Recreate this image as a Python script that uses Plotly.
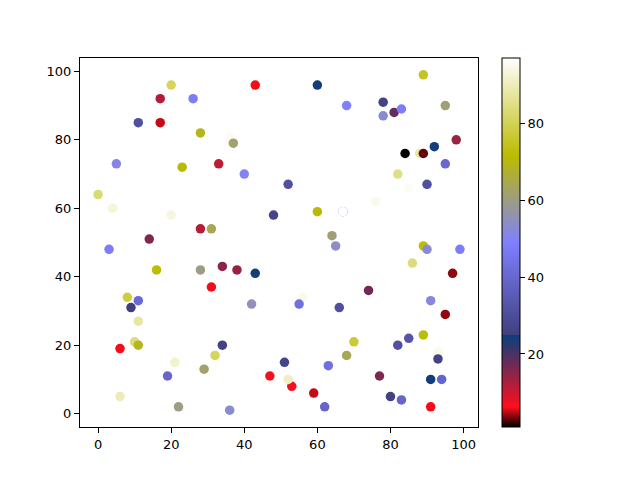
import plotly.graph_objects as go

# scatter data: x, y and colour value per point
x = [20, 17, 26, 43, 11, 17, 28, 36, 37, 5, 23, 33, 40, 0, 4, 20, 48, 28, 31, 14,
     60, 89, 68, 78, 81, 83, 78, 95, 98, 92, 84, 88, 89, 95, 97, 82, 85, 90, 52, 76,
     60, 67, 67, 64, 65, 89, 99, 90, 86, 97, 74, 56, 55, 66, 91, 95, 70, 68, 82, 85,
     89, 93, 93, 91, 94, 91, 80, 83, 77, 63, 62, 59, 53, 52, 51, 47,
     3, 16, 28, 34, 38, 43, 31, 42, 8, 11, 9, 11, 10, 11, 6, 34, 32, 21, 29, 19, 6, 22, 36]
y = [96, 92, 92, 96, 85, 85, 82, 81, 79, 73, 72, 73, 70, 64, 60, 58, 58, 54, 54, 51,
     96, 99, 90, 91, 88, 89, 87, 90, 80, 78, 76, 76, 76, 73, 70, 70, 66, 67, 67, 62,
     59, 59, 59, 52, 49, 49, 48, 48, 44, 41, 36, 34, 32, 31, 33, 29, 21, 17, 20, 22,
     23, 18, 16, 10, 10, 2, 5, 4, 11, 14, 2, 6, 8, 10, 15, 11,
     48, 42, 42, 43, 42, 41, 37, 32, 34, 33, 31, 27, 21, 20, 19, 20, 17, 15, 13, 11, 5, 2, 1]
c = [81, 12, 48, 6, 31, 5, 69, 96, 62, 51, 71, 11, 50, 83, 93, 94, 27, 12, 64, 16,
     24, 75, 49, 26, 18, 48, 53, 61, 14, 24, 1, 88, 3, 40, 97, 85, 96, 31, 31, 95,
     71, 48, 97, 61, 54, 72, 48, 53, 84, 4, 17, 95, 43, 31, 52, 4, 77, 64, 31, 33,
     72, 95, 26, 24, 39, 6, 26, 39, 16, 43, 39, 5, 7, 91, 27, 7,
     48, 72, 60, 15, 14, 24, 6, 55, 78, 41, 25, 88, 84, 69, 6, 26, 81, 92, 62, 39, 90, 60, 53]

# matplotlib gist_stern segment data
stern = {
    "r": [(0.0, 0.0, 0.0), (0.0547, 1.0, 1.0), (0.25, 0.027, 0.25), (1.0, 1.0, 1.0)],
    "g": [(0.0, 0.0, 0.0), (1.0, 1.0, 1.0)],
    "b": [(0.0, 0.0, 0.0), (0.5, 1.0, 1.0), (0.735, 0.0, 0.0), (1.0, 1.0, 1.0)],
}


def channel(seg, t, right=True):
    for (x0, _, y1), (x1, y0n, y1n) in zip(seg[:-1], seg[1:]):
        if t == x1 and right and x1 < 1.0:
            continue
        if x0 <= t <= x1:
            return y1 + (t - x0) / (x1 - x0) * (y0n - y1)
    return seg[-1][2]


def rgb(t, right=True):
    r, g, b = (channel(stern[k], t, right) for k in "rgb")
    return "rgb(%d,%d,%d)" % (round(r * 255), round(g * 255), round(b * 255))


stops = sorted(set([i / 100 for i in range(101)] + [0.0547, 0.735]))
colorscale = []
for t in stops:
    if t == 0.25:
        colorscale.append([t, rgb(t, right=False)])
    colorscale.append([t, rgb(t)])

fig = go.Figure(go.Scatter(
    x=x, y=y, mode="markers",
    marker=dict(
        size=9.5, color=c, colorscale=colorscale, cmin=1, cmax=97,
        line=dict(width=0), opacity=1,
        colorbar=dict(
            thickness=18, len=1, lenmode="fraction", y=0.5, yanchor="middle",
            x=1.06, xanchor="left", xpad=0, ypad=0,
            outlinewidth=1, outlinecolor="black",
            ticks="outside", ticklen=5, tickcolor="black",
            tickvals=[20, 40, 60, 80], tickfont=dict(size=13, color="black"),
        ),
    ),
    showlegend=False,
))

axis = dict(showgrid=False, zeroline=False, showline=True, linecolor="black",
            linewidth=1, mirror=True, ticks="outside", ticklen=5,
            tickcolor="black", tickfont=dict(size=13, color="black"))

# the page body adds an 8px offset, so margins are shifted to compensate
fig.update_layout(
    width=640, height=480,
    margin=dict(l=72, r=170, t=50, b=61),
    paper_bgcolor="white", plot_bgcolor="white",
    font=dict(family="DejaVu Sans", size=13, color="black"),
    xaxis=dict(range=[-4.95, 103.95], tickvals=[0, 20, 40, 60, 80, 100], **axis),
    yaxis=dict(range=[-3.9, 103.9], tickvals=[0, 20, 40, 60, 80, 100], **axis),
)

fig.write_html("out.html")
